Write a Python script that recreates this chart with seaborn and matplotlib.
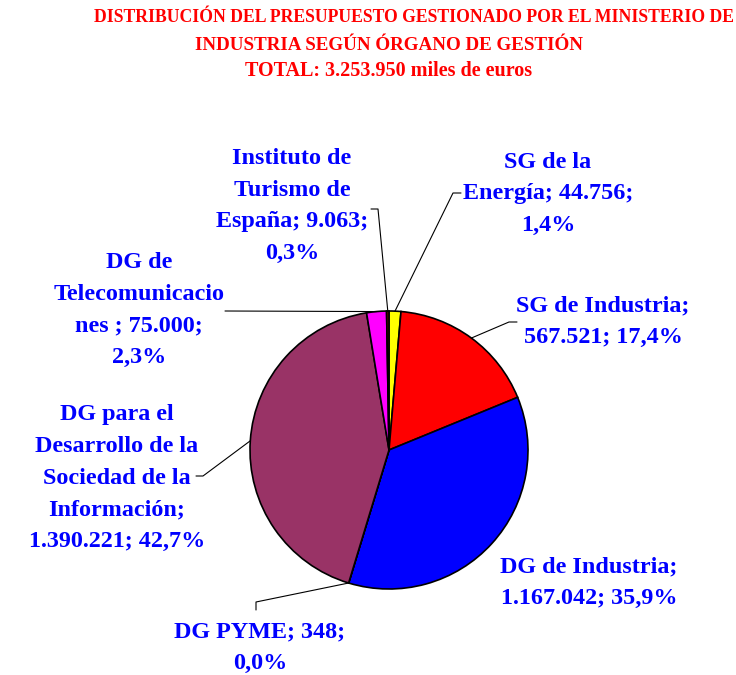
import numpy as np
import matplotlib
matplotlib.use("Agg")
import matplotlib.pyplot as plt
import seaborn as sns

# budget by managing body (thousands of euros), clockwise from 12 o'clock
organos = ["SG de la\nEnergía", "SG de Industria", "DG de Industria", "DG PYME",
           "DG para el\nDesarrollo de la\nSociedad de la\nInformación",
           "DG de\nTelecomunicacio\nnes ", "Instituto de\nTurismo de\nEspaña"]
importes = [44756, 567521, 1167042, 348, 1390221, 75000, 9063]
colores = ["#FFFF00", "#FF0000", "#0000FF", "#FFFFCC", "#993366", "#FF00FF", "#800000"]

# how excel wrapped each label: separator after name, after value
sep_nombre = ["; ", ";\n", ";\n", "; ", ";\n", "; ", "; "]
sep_valor = [";\n", "; ", "; ", ";\n", "; ", ";\n", ";\n"]

titulo = ["DISTRIBUCIÓN DEL PRESUPUESTO GESTIONADO POR EL MINISTERIO DE",
          "INDUSTRIA SEGÚN ÓRGANO DE GESTIÓN",
          "TOTAL: 3.253.950 miles de euros"]

sns.set_theme(style="white")
plt.rcParams["font.family"] = ["Liberation Serif", "DejaVu Serif"]

# layout in pixels (pie centre 389,450 radius 139)
CX, CY, R = 389, 450, 139
W, H = 736, 675


def px(x, y):
    return (x - CX) / R, (CY - y) / R


label_pos = [(548, 194), (603, 322), (589, 583), (260, 648),
             (117, 478), (139, 310), (292, 206)]
codos = [[(453, 193), (461, 193)], [(509, 322), (517, 322)], [],
         [(256, 602), (256, 610)], [(203, 476), (196, 476)],
         [(225, 311)], [(378, 209), (371, 209)]]

fig = plt.figure(figsize=(W / 100, H / 100), dpi=100)
ax = fig.add_axes([0, 0, 1, 1])

wedges, _ = ax.pie(importes, colors=colores, startangle=90, counterclock=False,
                   radius=1, wedgeprops=dict(edgecolor="black", linewidth=1.2))
ax.set_aspect("auto")
ax.set_xlim(-CX / R, (W - CX) / R)
ax.set_ylim((CY - H) / R, CY / R)
ax.axis("off")

total = sum(importes)
for i, w in enumerate(wedges):
    pct = f"{importes[i] / total * 100:.1f}".replace(".", ",")
    valor = f"{importes[i]:,}".replace(",", ".")
    texto = f"{organos[i]}{sep_nombre[i]}{valor}{sep_valor[i]}{pct}%"
    lx, ly = px(*label_pos[i])
    ax.text(lx, ly, texto, ha="center", va="center", multialignment="center",
            color="#0000FF", fontsize=17.4, fontweight="bold", linespacing=1.68)

    # leader line from middle of the wedge edge
    if codos[i]:
        ang = np.deg2rad((w.theta1 + w.theta2) / 2)
        xs = [np.cos(ang)] + [px(*p)[0] for p in codos[i]]
        ys = [np.sin(ang)] + [px(*p)[1] for p in codos[i]]
        ax.plot(xs, ys, color="black", linewidth=0.8)

fig.text(414 / W, 1 - 18 / H, titulo[0], ha="center", va="center",
         color="#FF0000", fontsize=12.7, fontweight="bold")
fig.text(389 / W, 1 - 45 / H, titulo[1], ha="center", va="center",
         color="#FF0000", fontsize=13.7, fontweight="bold")
fig.text(389 / W, 1 - 71 / H, titulo[2], ha="center", va="center",
         color="#FF0000", fontsize=14.5, fontweight="bold")

fig.savefig("out.png", dpi=100, facecolor="white")
